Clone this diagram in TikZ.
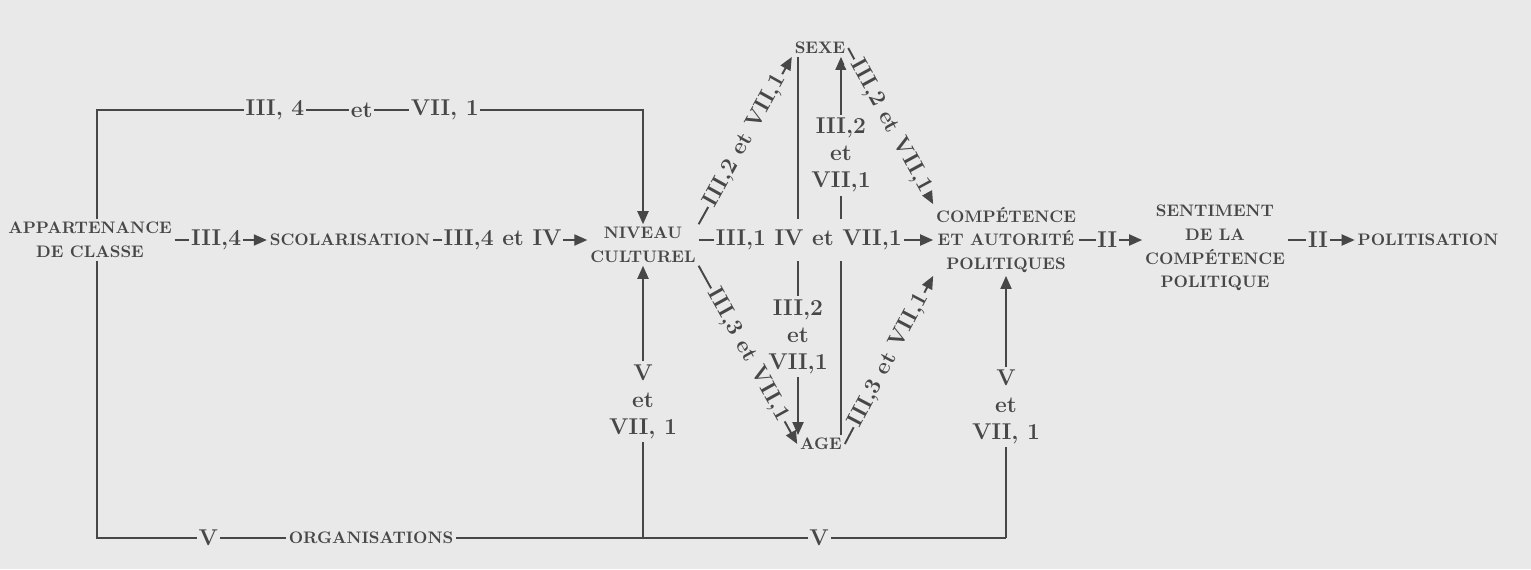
\documentclass[tikz,border=0pt]{standalone}
\usepackage{tikz}
\usetikzlibrary{arrows.meta}
\definecolor{inkgray}{HTML}{474747}
\definecolor{paper}{HTML}{E9E9E9}

\begin{document}
\begin{tikzpicture}[
  x=0.02cm, y=-0.02cm,
  concept/.style={align=center,text=inkgray,inner sep=1.5pt,
                  font=\fontsize{9.5}{13.5}\selectfont\bfseries},
  lbl/.style={fill=paper,text=inkgray,inner sep=1pt,
              font=\fontsize{13}{15.3}\selectfont\bfseries},
  vlbl/.style={lbl,align=center,inner sep=2pt},
  link/.style={draw=inkgray,line width=1.1pt},
  arrow/.style={link,-{Triangle[length=2.6mm,width=2.2mm]}}
]
  \fill[paper] (0,0) rectangle (1531,569);
  \useasboundingbox (0,0) rectangle (1531,569);

  \node[concept] (appart) at (90,240) {APPARTENANCE\\DE CLASSE};
  \node[concept] (scol) at (350,240) {SCOLARISATION};
  \node[concept] (niveau) at (643,245) {NIVEAU\\CULTUREL};
  \node[concept] (sexe) at (820,48) {SEXE};
  \node[concept] (age) at (821,444) {AGE};
  \node[concept] (compet) at (1006,240) {COMPÉTENCE\\ET AUTORITÉ\\POLITIQUES};
  \node[concept] (sentiment) at (1215,248) {SENTIMENT\\DE LA\\COMPÉTENCE\\POLITIQUE};
  \node[concept] (polit) at (1428,240) {POLITISATION};
  \node[concept] (organ) at (371,538) {ORGANISATIONS};
  \coordinate (tl) at (97,110);
  \coordinate (bl) at (97,538);

  \draw[arrow] (appart.north -| tl) -- (tl)
    -- node[lbl,pos=.326] {III, 4} node[lbl,pos=.485] {et} node[lbl,pos=.637] {VII, 1} (tl -| niveau.north)
    -- (niveau.north);
  \draw[link] (appart.south -| bl) -- (bl) -- node[lbl,pos=.59] {V} (organ.west);
  \draw[link] (organ.east) -- node[lbl,pos=.66] {V} (compet.south |- organ.east);
  \draw[arrow] (organ.east -| niveau.south) -- node[vlbl] {V\\et\\VII, 1} (niveau.south);
  \draw[arrow] (compet.south |- organ.east) -- node[vlbl] {V\\et\\VII, 1} (compet.south);

  \draw[arrow] (appart.east |- scol.west) -- node[lbl,pos=.45] {III,4} (scol.west);
  \draw[arrow] (scol.east) -- node[lbl,pos=.45] {III,4 et IV} (scol.east -| niveau.west);
  \draw[arrow] ([xshift=-0.44cm]sexe.south) -- node[vlbl,pos=.74] {III,2\\et\\VII,1} ([xshift=-0.44cm]sexe.south |- age.north);
  \draw[arrow] ([xshift=0.42cm]sexe.south |- age.north) -- node[vlbl,pos=.74] {III,2\\et\\VII,1} ([xshift=0.42cm]sexe.south);
  \draw[arrow] (niveau.east |- compet.west) -- node[lbl,pos=.47,inner ysep=6pt] {III,1 IV et VII,1} (compet.west);
  \draw[arrow] (compet.east) -- node[lbl,pos=.45] {II} (compet.east -| sentiment.west);
  \draw[arrow] (sentiment.east |- polit.west) -- node[lbl,pos=.45] {II} (polit.west);

  \draw[arrow] (niveau.north east) -- node[lbl,sloped] {III,2 et VII,1} (sexe.south west);
  \draw[arrow] (niveau.south east) -- node[lbl,sloped] {III,3 et VII,1} (age.west);
  \draw[arrow] (sexe.east) -- node[lbl,sloped] {III,2 et VII,1} (compet.north west);
  \draw[arrow] (age.east) -- node[lbl,sloped] {III,3 et VII,1} (compet.south west);
\end{tikzpicture}
\end{document}
